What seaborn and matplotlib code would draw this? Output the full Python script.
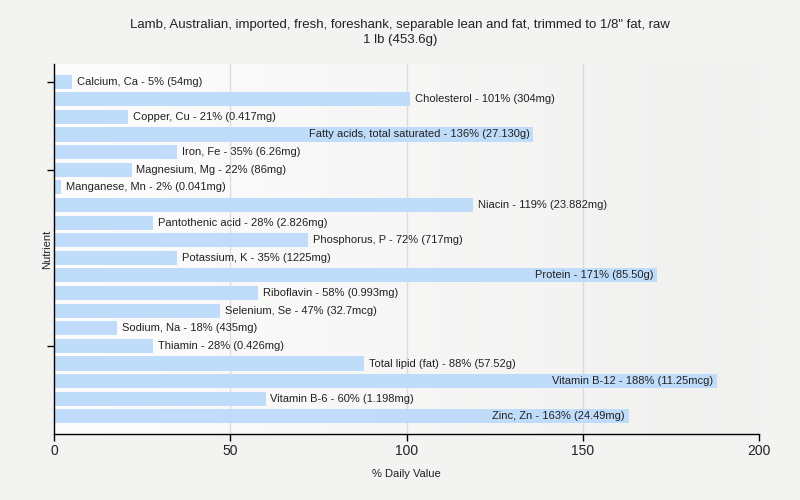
import numpy as np
import matplotlib
matplotlib.use("Agg")
import matplotlib.pyplot as plt
import seaborn as sns
import pandas as pd
from matplotlib.colors import LinearSegmentedColormap

nutrients = ["Calcium, Ca", "Cholesterol", "Copper, Cu", "Fatty acids, total saturated",
             "Iron, Fe", "Magnesium, Mg", "Manganese, Mn", "Niacin", "Pantothenic acid",
             "Phosphorus, P", "Potassium, K", "Protein", "Riboflavin", "Selenium, Se",
             "Sodium, Na", "Thiamin", "Total lipid (fat)", "Vitamin B-12", "Vitamin B-6",
             "Zinc, Zn"]
percents = [5, 101, 21, 136, 35, 22, 2, 119, 28, 72, 35, 171, 58, 47, 18, 28, 88, 188, 60, 163]
amounts = ["54mg", "304mg", "0.417mg", "27.130g", "6.26mg", "86mg", "0.041mg", "23.882mg",
           "2.826mg", "717mg", "1225mg", "85.50g", "0.993mg", "32.7mcg", "435mg", "0.426mg",
           "57.52g", "11.25mcg", "1.198mg", "24.49mg"]
x_ticks = [0, 50, 100, 150, 200]
title = "Lamb, Australian, imported, fresh, foreshank, separable lean and fat, trimmed to 1/8\" fat, raw\n1 lb (453.6g)"

sns.set_theme(style="white")
plt.rcParams['font.family'] = ['Liberation Sans', 'DejaVu Sans']

df = pd.DataFrame({"Nutrient": nutrients, "pct": percents})

fig = plt.figure(figsize=(8, 5), dpi=100, facecolor="#f3f3f2")
ax = fig.add_axes([54/800, 66/500, (759-54)/800, (434-64)/500])

# gradient background
grad = np.linspace(0, 1, 256).reshape(1, -1)
cmap = LinearSegmentedColormap.from_list("bg", ["#fdfdfd", "#f0f0ef"])
ax.imshow(grad, extent=[0, 200, 20, -1], aspect="auto", cmap=cmap, zorder=0)

sns.barplot(data=df, x="pct", y="Nutrient", orient="h", color="#c0dcfb",
            width=0.8, saturation=1, linewidth=0, ax=ax, zorder=2)

ax.set_xlim(0, 200)
ax.set_ylim(20, -1)
ax.set_xticks(x_ticks)
ax.set_xticklabels([str(t) for t in x_ticks], fontsize=10, color="#222222")
ax.set_yticks([0, 5, 15])
ax.set_yticklabels([])
for xv in x_ticks[1:]:
    ax.axvline(xv, color="#dcdcdc", lw=1, zorder=1)

for s in ["top", "right"]:
    ax.spines[s].set_visible(False)
for s in ["left", "bottom"]:
    ax.spines[s].set_color("#000000")
    ax.spines[s].set_linewidth(1)
ax.tick_params(axis="both", which="both", direction="out", length=5, width=1,
               color="#000000", left=True, bottom=True, pad=2)

ax.set_xlabel("% Daily Value", fontsize=8, color="#222222", labelpad=8)
ax.set_ylabel("Nutrient", fontsize=8, color="#222222", labelpad=-6)
fig.suptitle(title, fontsize=9.5, color="#222222", y=0.962, linespacing=1.35)

fig.canvas.draw()
renderer = fig.canvas.get_renderer()
inv = ax.transData.inverted()
for i, (n, p, a) in enumerate(zip(nutrients, percents, amounts)):
    label = f"{n} - {p}% ({a})"
    t = ax.text(p + 1.4, i, label, fontsize=8, va="center", ha="left",
                color="#222222", zorder=3)
    bb = t.get_window_extent(renderer=renderer)
    x_end = inv.transform((bb.x1, bb.y1))[0]
    if x_end > 200:
        t.set_x(p - 1.0)
        t.set_ha("right")

fig.savefig("out.png", dpi=100, facecolor=fig.get_facecolor())
